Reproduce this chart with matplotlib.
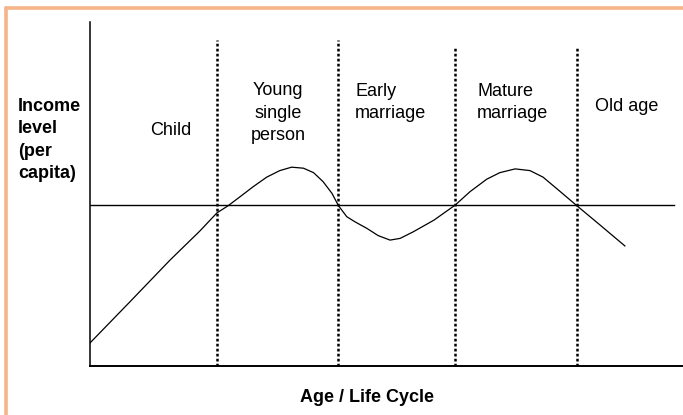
import matplotlib.pyplot as plt
from matplotlib.lines import Line2D

plt.rcParams['font.family'] = ['Liberation Sans', 'DejaVu Sans']

# income curve (age 0-100, income 0-100)
age = [0, 6.7, 13.5, 18.5, 21.4, 23.3, 25.3, 27.5, 29.8, 32.0, 34.0, 36.0, 37.7,
       39.3, 40.8, 41.9, 43.3, 44.7, 46.7, 48.6, 50.6, 52.3, 54.5, 58.0, 61.6,
       64.1, 66.9, 69.1, 71.7, 74.2, 76.4, 79.3, 82.1, 86.0, 90.2]
income = [6.7, 18.6, 30.8, 39.2, 44.5, 46.6, 49.2, 52.1, 54.9, 56.8, 57.8, 57.5, 56.2,
          53.6, 50.2, 46.6, 43.4, 41.9, 40.0, 37.9, 36.6, 37.1, 39.0, 42.4, 46.8,
          50.7, 54.3, 56.2, 57.3, 56.8, 54.9, 50.7, 46.6, 41.0, 34.9]

average_income = 46.8
stage_bounds = [21.4, 41.8, 61.6, 82.1]
bound_tops = [94.8, 94.8, 92.4, 92.4]

stages = ['Child', 'Young\nsingle\nperson', 'Early\nmarriage', 'Mature\nmarriage', 'Old age']
stage_x = [13.7, 31.7, 44.7, 65.3, 85.2]
stage_y = [68.6, 73.5, 76.5, 76.5, 75.3]
stage_ha = ['center', 'center', 'left', 'left', 'left']

fig = plt.figure(figsize=(6.83, 4.15), dpi=100)
ax = fig.add_axes([90 / 683, 49 / 415, 593 / 683, 344 / 415])

ax.plot(age, income, color='black', lw=0.9, solid_joinstyle='round')
ax.plot([0, 98.5], [average_income, average_income], color='black', lw=1.0)
for xb, top in zip(stage_bounds, bound_tops):
    ax.plot([xb, xb], [0, top], color='black', lw=1.8, linestyle=(0, (1.1, 0.9)))

for txt, x, y, ha in zip(stages, stage_x, stage_y, stage_ha):
    ax.text(x, y, txt, ha=ha, va='center', fontsize=13, linespacing=1.4)

ax.set_xlim(0, 100)
ax.set_ylim(0, 100)
ax.set_xticks([])
ax.set_yticks([])
ax.spines['top'].set_visible(False)
ax.spines['right'].set_visible(False)
ax.spines['left'].set_linewidth(1.1)
ax.spines['bottom'].set_linewidth(1.4)

fig.text(18 / 683, 1 - 140 / 415, 'Income\nlevel\n(per\ncapita)', ha='left', va='center',
         fontsize=13, fontweight='bold', linespacing=1.4)
fig.text(367 / 683, 1 - 397 / 415, 'Age / Life Cycle', ha='center', va='center',
         fontsize=13, fontweight='bold')

# orange frame on top and left
fig.add_artist(Line2D([5.5 / 683, 1], [1 - 8 / 415, 1 - 8 / 415], color='#F5B48A', lw=2.6,
                      transform=fig.transFigure, solid_capstyle='round'))
fig.add_artist(Line2D([5.5 / 683, 5.5 / 683], [0, 1 - 8 / 415], color='#F5B48A', lw=2.6,
                      transform=fig.transFigure, solid_capstyle='round'))

fig.savefig('out.png', dpi=100)
